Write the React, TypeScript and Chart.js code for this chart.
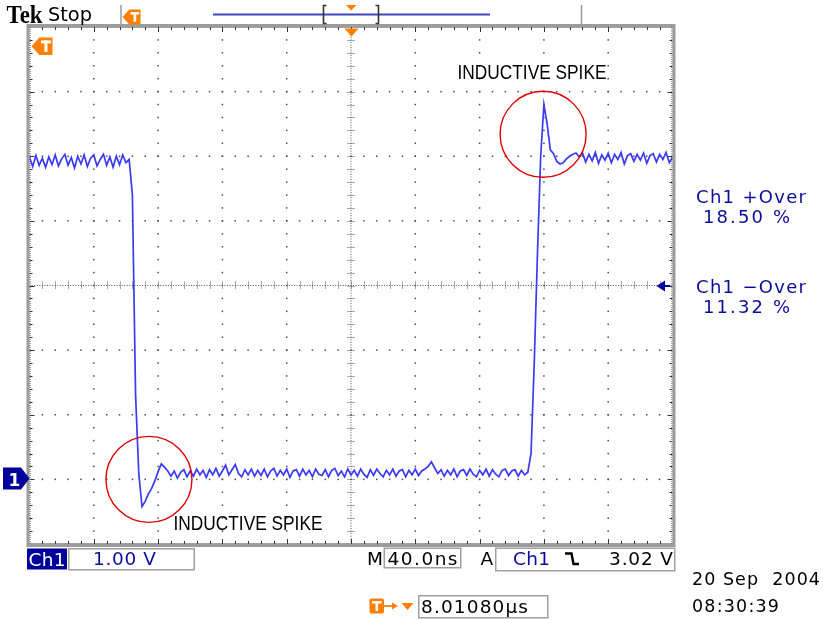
import React, { useEffect, useRef } from 'react';
import { Chart, registerables } from 'chart.js';
Chart.register(...registerables);

// ---- Scope settings ----
const NS_PER_DIV = 40; // M 40.0ns
const V_PER_DIV = 1; // Ch1 1.00 V
const X_DIVS = 10;
const Y_DIVS = 8;
const timeRangeNs = [0, 400];
const voltRange = [-1, 7]; // ground marker one division above bottom
const SAMPLE_NS = 2;

// ---- Ch1 trace (volts) ----
const highLeftStartNs = 0;
const highLeftV = [
  4.98, 4.84, 5.01, 4.86, 4.97, 4.83, 4.99, 4.87, 5.02, 4.85,
  4.96, 5.03, 4.86, 4.98, 4.82, 5.0, 4.88, 5.02, 4.84, 4.97,
  5.02, 4.85, 4.95, 5.03, 4.86, 4.99, 4.83, 5.0, 4.87, 5.02,
  4.9, 4.95,
];
const fallStartNs = 64;
const fallV = [
  4.4, 1.3, 0.08, -0.42, -0.34, -0.22, -0.14, -0.02, 0.12, 0.24,
  0.19, 0.13, 0.05, 0.13, 0.02, 0.11, 0.15, 0.04, 0.13,
];
const lowStartNs = 102;
const lowV = [
  0.05, 0.16, 0.07, 0.14, 0.03, 0.15, 0.07, 0.17, 0.05, 0.13,
  0.22, 0.07, 0.15, 0.23, 0.09, 0.04, 0.15, 0.07, 0.16, 0.05,
  0.14, 0.06, 0.16, 0.04, 0.13, 0.17, 0.05, 0.14, 0.07, 0.16,
  0.03, 0.13, 0.15, 0.05, 0.16, 0.07, 0.14, 0.04, 0.16, 0.08,
  0.06, 0.15, 0.04, 0.14, 0.17, 0.06, 0.13, 0.04, 0.16, 0.07,
  0.14, 0.05, 0.16, 0.08, 0.03, 0.15, 0.06, 0.16, 0.09, 0.04,
  0.14, 0.07, 0.16, 0.05, 0.13, 0.15, 0.04, 0.14, 0.07, 0.16,
  0.06, 0.13, 0.16, 0.2, 0.27, 0.18, 0.09, 0.15, 0.05, 0.14,
  0.07, 0.16, 0.04, 0.13, 0.15, 0.06, 0.16, 0.08, 0.04, 0.14,
  0.07, 0.16, 0.05, 0.15, 0.08, 0.04, 0.14, 0.16, 0.06, 0.13,
  0.15, 0.05, 0.14, 0.07, 0.11,
];
const riseStartNs = 312;
const riseV = [
  0.4, 1.8, 3.5, 5.0, 5.8, 5.5, 5.1, 5.04, 4.92, 4.88,
  4.9, 4.96, 5.0, 5.03, 5.05,
];
const highRightStartNs = 342;
const highRightV = [
  4.99, 5.05, 4.91, 5.03, 4.93, 5.06, 4.89, 5.02, 4.94, 5.05,
  4.9, 5.03, 4.95, 5.06, 4.88, 5.01, 5.04, 4.92, 5.03, 4.94,
  5.05, 4.89, 5.01, 5.04, 4.91, 5.03, 4.95, 5.06, 4.9, 4.98,
];

// ---- Annotation circles around the spikes ----
const circleNs = [74.3, 319.5];
const circleV = [0.0, 5.34];

const segments: [number, number[]][] = [
  [highLeftStartNs, highLeftV],
  [fallStartNs, fallV],
  [lowStartNs, lowV],
  [riseStartNs, riseV],
  [highRightStartNs, highRightV],
];

const ORANGE = '#ff7f00';
const NAVY = '#00009a';
const TXT_BLUE = '#0c0c9c';
const SCOPE_FONT = 'DejaVu Sans, Verdana, sans-serif';

const graticulePlugin = {
  id: 'graticule',
  beforeDatasetsDraw(chart: any) {
    const { ctx, chartArea: a, scales } = chart;
    const X = (t: number) => scales.x.getPixelForValue(t);
    const Y = (v: number) => scales.y.getPixelForValue(v);
    ctx.save();
    // major dotted lines
    ctx.fillStyle = '#4a4a4a';
    for (let i = 1; i < X_DIVS; i++) {
      if (i === X_DIVS / 2) continue;
      const px = X(timeRangeNs[0] + i * NS_PER_DIV);
      for (let k = 1; k < Y_DIVS * 5; k++) {
        const py = Y(voltRange[0] + (k * V_PER_DIV) / 5);
        ctx.fillRect(px - 0.75, py - 0.75, 1.5, 1.5);
      }
    }
    for (let j = 1; j < Y_DIVS; j++) {
      if (j === Y_DIVS / 2) continue;
      const py = Y(voltRange[0] + j * V_PER_DIV);
      for (let k = 1; k < X_DIVS * 5; k++) {
        const px = X(timeRangeNs[0] + (k * NS_PER_DIV) / 5);
        ctx.fillRect(px - 0.75, py - 0.75, 1.5, 1.5);
      }
    }
    // center cross
    const cx = X(timeRangeNs[0] + (X_DIVS / 2) * NS_PER_DIV);
    const cy = Y(voltRange[0] + (Y_DIVS / 2) * V_PER_DIV);
    ctx.fillStyle = '#555';
    const w = a.right - a.left;
    const h = a.bottom - a.top;
    for (let k = 1; k < X_DIVS * 25; k++) {
      const px = a.left + (k * w) / (X_DIVS * 25);
      ctx.fillRect(px - 0.5, cy - 0.5, 1, 1);
    }
    for (let k = 1; k < Y_DIVS * 25; k++) {
      const py = a.top + (k * h) / (Y_DIVS * 25);
      ctx.fillRect(cx - 0.5, py - 0.5, 1, 1);
    }
    ctx.strokeStyle = '#555';
    ctx.lineWidth = 1;
    ctx.setLineDash([1, 1]);
    ctx.beginPath();
    for (let k = 1; k < X_DIVS * 5; k++) {
      const px = Math.round(a.left + (k * w) / (X_DIVS * 5)) + 0.5;
      ctx.moveTo(px, cy - 4);
      ctx.lineTo(px, cy + 4);
    }
    for (let k = 1; k < Y_DIVS * 5; k++) {
      const py = Math.round(a.top + (k * h) / (Y_DIVS * 5)) + 0.5;
      ctx.moveTo(cx - 3.5, py);
      ctx.lineTo(cx + 3.5, py);
    }
    ctx.stroke();
    ctx.setLineDash([]);
    // border ticks
    ctx.strokeStyle = '#333';
    ctx.beginPath();
    for (let k = 1; k < X_DIVS * 5; k++) {
      const px = Math.round(a.left + (k * w) / (X_DIVS * 5)) + 0.5;
      const len = k % 5 === 0 ? 5 : 3;
      ctx.moveTo(px, a.top);
      ctx.lineTo(px, a.top + len);
      ctx.moveTo(px, a.bottom);
      ctx.lineTo(px, a.bottom - len);
    }
    for (let k = 1; k < Y_DIVS * 5; k++) {
      const py = Math.round(a.top + (k * h) / (Y_DIVS * 5)) + 0.5;
      const len = k % 5 === 0 ? 5 : 3;
      ctx.moveTo(a.left, py);
      ctx.lineTo(a.left + len, py);
      ctx.moveTo(a.right, py);
      ctx.lineTo(a.right - len, py);
    }
    ctx.stroke();
    // fine dotted inner edge
    ctx.fillStyle = '#444';
    for (let px = a.left; px < a.right; px += 2) {
      ctx.fillRect(px, a.top, 1, 1);
      ctx.fillRect(px, a.bottom - 1, 1, 1);
    }
    for (let py = a.top; py < a.bottom; py += 2) {
      ctx.fillRect(a.left, py, 1, 1);
      ctx.fillRect(a.right - 1, py, 1, 1);
    }
    // grey frame
    ctx.strokeStyle = '#9c9c9c';
    ctx.lineWidth = 3;
    ctx.strokeRect(a.left - 1.5, a.top - 1.5, w + 3, h + 3);
    ctx.restore();
  },
};

function TMarkerLeft({ x, y, s }: { x: number; y: number; s: number }) {
  // pentagon pointing left, tip at (x, y), size s (height)
  const hh = s / 2;
  const pts = `${x},${y} ${x + hh * 0.9},${y - hh} ${x + s * 1.2},${y - hh} ${x + s * 1.2},${y + hh} ${x + hh * 0.9},${y + hh}`;
  const bx = x + hh * 0.9;
  const bw = s * 1.2 - hh * 0.9;
  return (
    <g>
      <polygon points={pts} fill={ORANGE} />
      <rect x={bx + bw * 0.12} y={y - hh + s * 0.17} width={bw * 0.76} height={s * 0.17} fill="#fff" />
      <rect x={bx + bw * 0.5 - s * 0.09} y={y - hh + s * 0.17} width={s * 0.18} height={s * 0.65} fill="#fff" />
    </g>
  );
}

export default function App() {
  const ref = useRef<HTMLCanvasElement>(null);
  useEffect(() => {
    const canvas = ref.current;
    if (!canvas) return;
    const trace: { x: number; y: number }[] = [];
    segments.forEach(([start, vals]) => {
      vals.forEach((v, k) => trace.push({ x: start + k * SAMPLE_NS, y: v }));
    });
    const circles = circleNs.map((t, i) => ({ x: t, y: circleV[i] }));
    const chart = new Chart(canvas, {
      type: 'line',
      data: {
        datasets: [
          {
            type: 'scatter',
            data: circles,
            pointRadius: 43,
            pointHoverRadius: 43,
            pointBorderColor: '#e00000',
            pointBackgroundColor: 'rgba(0,0,0,0)',
            pointBorderWidth: 1.4,
            showLine: false,
            clip: false,
          } as any,
          {
            type: 'line',
            data: trace,
            borderColor: 'rgb(58,58,245)',
            borderWidth: 1.7,
            pointRadius: 0,
            tension: 0,
            fill: false,
          } as any,
        ],
      },
      options: {
        animation: false,
        responsive: false,
        events: [],
        layout: { autoPadding: false, padding: { left: 29.5, right: 150.5, top: 27, bottom: 76 } },
        scales: {
          x: { type: 'linear', min: timeRangeNs[0], max: timeRangeNs[1], display: false },
          y: { type: 'linear', min: voltRange[0], max: voltRange[1], display: false },
        },
        plugins: { legend: { display: false }, tooltip: { enabled: false }, title: { display: false } },
      },
      plugins: [graticulePlugin],
    });
    return () => chart.destroy();
  }, []);

  const sf = { fontFamily: SCOPE_FONT } as const;
  return (
    <div style={{ position: 'absolute', left: 0, top: 0, width: 823, height: 620, background: '#fff', overflow: 'hidden' }}>
      <canvas ref={ref} width={823} height={620} style={{ position: 'absolute', left: 0, top: 0, width: 823, height: 620 }} />
      <svg width={823} height={620} style={{ position: 'absolute', left: 0, top: 0, pointerEvents: 'none' }}>
        {/* header */}
        <text x={6.5} y={23} fontFamily="Liberation Serif, serif" fontWeight="bold" fontSize={26} textLength={36} lengthAdjust="spacingAndGlyphs" fill="#000">Tek</text>
        <text x={48} y={21} {...sf} fontSize={19} textLength={44} lengthAdjust="spacingAndGlyphs" fill="#000">Stop</text>
        <line x1={121} y1={5} x2={121} y2={25} stroke="#9a9a9a" strokeWidth={1.5} />
        <TMarkerLeft x={122.5} y={17} s={15} />
        <line x1={213} y1={14.5} x2={490} y2={14.5} stroke="#4444bb" strokeWidth={2} />
        <path d="M326.5,5.5 H323.5 V23.5 H326.5" fill="none" stroke="#333" strokeWidth={1.6} />
        <path d="M375.5,5.5 H378.5 V23.5 H375.5" fill="none" stroke="#333" strokeWidth={1.6} />
        <polygon points="346,5 356.5,5 351.2,10.5" fill={ORANGE} />
        <line x1={581.5} y1={5} x2={581.5} y2={25} stroke="#9a9a9a" strokeWidth={1.5} />
        {/* graticule markers */}
        <polygon points="344.5,28.5 358.5,28.5 351.5,36.5" fill={ORANGE} />
        <TMarkerLeft x={31.5} y={46.2} s={17.5} />
        <polygon points="3,467.5 21,467.5 29.5,478.5 21,489.5 3,489.5" fill={NAVY} />
        <text x={8.5} y={486} fontFamily="DejaVu Sans, sans-serif" fontWeight="bold" fontSize={17} fill="#fff">1</text>
        <polygon points="656.5,286 665,280.5 665,291.5" fill={NAVY} />
        <line x1={664} y1={286} x2={670} y2={286} stroke={NAVY} strokeWidth={2} />
        {/* annotation labels */}
        <text x={457.5} y={79} fontFamily="Liberation Sans, Arial, sans-serif" fontSize={21} textLength={149} lengthAdjust="spacingAndGlyphs" fill="#000">INDUCTIVE SPIKE</text>
        <text x={173.5} y={530} fontFamily="Liberation Sans, Arial, sans-serif" fontSize={21} textLength={149} lengthAdjust="spacingAndGlyphs" fill="#000">INDUCTIVE SPIKE</text>
        {/* measurements */}
        <text x={696} y={203} {...sf} fontSize={18} textLength={110} fill={TXT_BLUE}>Ch1 +Over</text>
        <text x={703} y={223} {...sf} fontSize={18} textLength={87} fill={TXT_BLUE}>18.50 %</text>
        <text x={696} y={293} {...sf} fontSize={18} textLength={110} fill={TXT_BLUE}>Ch1 −Over</text>
        <text x={703} y={313} {...sf} fontSize={18} textLength={87} fill={TXT_BLUE}>11.32 %</text>
        {/* bottom status line */}
        <rect x={27} y={548.5} width={40} height={21} fill={NAVY} />
        <text x={28.5} y={566} {...sf} fontSize={18.5} textLength={37} fill="#fff">Ch1</text>
        <rect x={68.75} y={548.75} width={125.5} height={21} fill="none" stroke="#a0a0a0" strokeWidth={1.5} />
        <text x={93} y={565} {...sf} fontSize={18.5} textLength={63} fill={TXT_BLUE}>1.00 V</text>
        <text x={367} y={565} {...sf} fontSize={18.5} textLength={15} fill="#000">M</text>
        <rect x={384.25} y={548.25} width={76.5} height={19.5} fill="none" stroke="#a0a0a0" strokeWidth={1.5} />
        <text x={387.5} y={565} {...sf} fontSize={18.5} textLength={70} fill="#000">40.0ns</text>
        <text x={480.5} y={565} {...sf} fontSize={18.5} textLength={12.5} fill="#000">A</text>
        <rect x={495.75} y={548.25} width={179} height={22.5} fill="none" stroke="#a0a0a0" strokeWidth={1.5} />
        <text x={513} y={565} {...sf} fontSize={18.5} textLength={37} fill={TXT_BLUE}>Ch1</text>
        <path d="M565,553.5 H571.5 L573.5,564 H579" fill="none" stroke="#000" strokeWidth={2.4} />
        <text x={609} y={565} {...sf} fontSize={18.5} textLength={64} fill="#000">3.02 V</text>
        {/* date / time */}
        <text x={692} y={585} {...sf} fontSize={17.5} textLength={128} xmlSpace="preserve" style={{ whiteSpace: 'pre' }} fill="#000">20 Sep  2004</text>
        <text x={692} y={612} {...sf} fontSize={17.5} textLength={87} fill="#000">08:30:39</text>
        {/* trigger position readout */}
        <rect x={369.5} y={598.5} width={14.5} height={15} rx={2} fill={ORANGE} />
        <rect x={372} y={601} width={9.5} height={2.6} fill="#fff" />
        <rect x={375.5} y={601} width={2.6} height={10} fill="#fff" />
        <line x1={384} y1={606} x2={393} y2={606} stroke={ORANGE} strokeWidth={1.8} />
        <polygon points="392,602.5 398,606 392,609.5" fill={ORANGE} />
        <polygon points="401.5,603 413.5,603 407.5,610" fill={ORANGE} />
        <rect x={418.75} y={595.75} width={129} height={22} fill="none" stroke="#a0a0a0" strokeWidth={1.5} />
        <text x={421} y={612.5} {...sf} fontSize={18.5} textLength={107} fill="#000">8.01080μs</text>
      </svg>
    </div>
  );
}
